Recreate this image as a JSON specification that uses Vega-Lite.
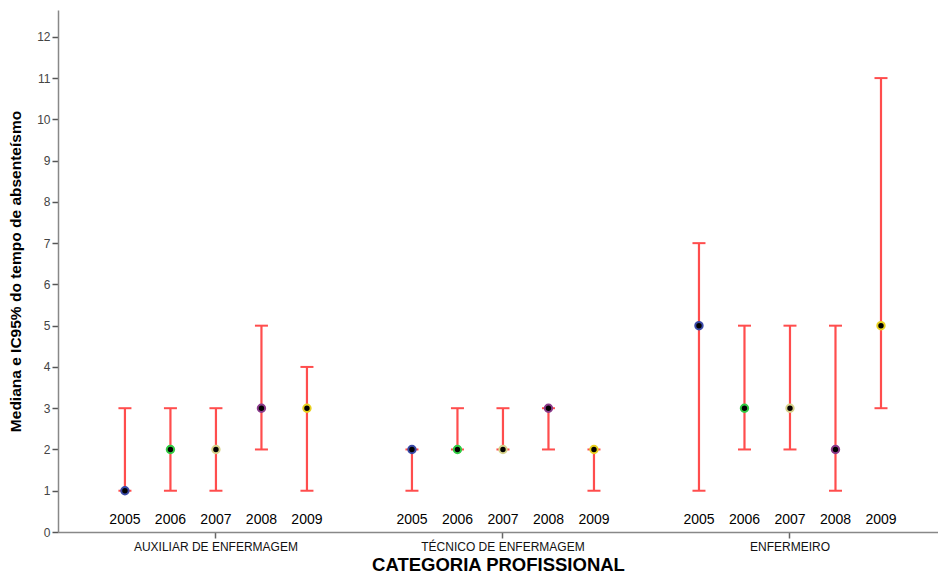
{
  "$schema": "https://vega.github.io/schema/vega-lite/v6.json",
  "width": 880,
  "height": 522,
  "autosize": {"type": "none"},
  "padding": {"left": 58, "top": 10, "right": 0, "bottom": 42},
  "background": "white",
  "config": {"view": {"stroke": null}},
  "data": {
    "values": [
      {"cat": "AUXILIAR DE ENFERMAGEM", "ano": "2005", "med": 1, "lo": 1, "hi": 3},
      {"cat": "AUXILIAR DE ENFERMAGEM", "ano": "2006", "med": 2, "lo": 1, "hi": 3},
      {"cat": "AUXILIAR DE ENFERMAGEM", "ano": "2007", "med": 2, "lo": 1, "hi": 3},
      {"cat": "AUXILIAR DE ENFERMAGEM", "ano": "2008", "med": 3, "lo": 2, "hi": 5},
      {"cat": "AUXILIAR DE ENFERMAGEM", "ano": "2009", "med": 3, "lo": 1, "hi": 4},
      {"cat": "TÉCNICO DE ENFERMAGEM", "ano": "2005", "med": 2, "lo": 1, "hi": 2},
      {"cat": "TÉCNICO DE ENFERMAGEM", "ano": "2006", "med": 2, "lo": 2, "hi": 3},
      {"cat": "TÉCNICO DE ENFERMAGEM", "ano": "2007", "med": 2, "lo": 2, "hi": 3},
      {"cat": "TÉCNICO DE ENFERMAGEM", "ano": "2008", "med": 3, "lo": 2, "hi": 3},
      {"cat": "TÉCNICO DE ENFERMAGEM", "ano": "2009", "med": 2, "lo": 1, "hi": 2},
      {"cat": "ENFERMEIRO", "ano": "2005", "med": 5, "lo": 1, "hi": 7},
      {"cat": "ENFERMEIRO", "ano": "2006", "med": 3, "lo": 2, "hi": 5},
      {"cat": "ENFERMEIRO", "ano": "2007", "med": 3, "lo": 2, "hi": 5},
      {"cat": "ENFERMEIRO", "ano": "2008", "med": 2, "lo": 1, "hi": 5},
      {"cat": "ENFERMEIRO", "ano": "2009", "med": 5, "lo": 3, "hi": 11}
    ]
  },
  "encoding": {
    "x": {
      "field": "cat",
      "type": "nominal",
      "sort": null,
      "scale": {"paddingInner": 0.2, "paddingOuter": 0.133, "align": 0.565},
      "axis": {
        "title": "CATEGORIA PROFISSIONAL",
        "titleFont": "Liberation Sans",
        "titleFontSize": 18.5,
        "titleFontWeight": "bold",
        "titleColor": "#000000",
        "titlePadding": 3,
        "labelAngle": 0,
        "labelFont": "Liberation Sans Narrow, Liberation Sans",
        "labelFontSize": 12,
        "labelColor": "#111111",
        "labelPadding": 3,
        "domainColor": "#888888",
        "domainWidth": 1.5,
        "tickColor": "#666666",
        "tickWidth": 1.5,
        "tickSize": 6
      }
    },
    "xOffset": {
      "field": "ano",
      "type": "nominal",
      "scale": {"type": "point", "padding": 0.523}
    }
  },
  "layer": [
    {
      "mark": {"type": "rule", "color": "#ff4d4d", "strokeWidth": 2.2},
      "encoding": {
        "y": {
          "field": "lo",
          "type": "quantitative",
          "scale": {"domain": [0, 12.65], "nice": false, "zero": true},
          "axis": {
            "title": "Mediana e IC95% do tempo de absenteísmo",
            "titleFont": "Liberation Sans Narrow, Liberation Sans",
            "titleFontSize": 15.5,
            "titleFontWeight": "bold",
            "titleColor": "#000000",
            "titlePadding": 13,
            "values": [0, 1, 2, 3, 4, 5, 6, 7, 8, 9, 10, 11, 12],
            "labelFont": "Liberation Sans",
            "labelFontSize": 12,
            "labelColor": "#444444",
            "labelPadding": 2,
            "grid": false,
            "domainColor": "#888888",
            "domainWidth": 1.5,
            "tickColor": "#555555",
            "tickWidth": 1.5,
            "tickSize": 6
          }
        },
        "y2": {"field": "hi"}
      }
    },
    {
      "mark": {"type": "tick", "color": "#ff4d4d", "thickness": 2, "size": 13, "orient": "horizontal", "opacity": 1},
      "encoding": {"y": {"field": "lo", "type": "quantitative"}}
    },
    {
      "mark": {"type": "tick", "color": "#ff4d4d", "thickness": 2, "size": 13, "orient": "horizontal", "opacity": 1},
      "encoding": {"y": {"field": "hi", "type": "quantitative"}}
    },
    {
      "mark": {"type": "point", "filled": false, "fill": "#000000", "fillOpacity": 1, "strokeWidth": 2, "size": 55, "opacity": 1},
      "encoding": {
        "y": {"field": "med", "type": "quantitative"},
        "color": {
          "field": "ano",
          "type": "nominal",
          "scale": {"domain": ["2005", "2006", "2007", "2008", "2009"], "range": ["#3a4aa8", "#33cc44", "#d6d28a", "#8a3a8a", "#e8d020"]},
          "legend": null
        }
      }
    },
    {
      "mark": {"type": "text", "font": "Liberation Sans", "fontSize": 14, "color": "#000000", "baseline": "middle", "align": "center"},
      "encoding": {
        "y": {"datum": 0.3, "type": "quantitative"},
        "text": {"field": "ano", "type": "nominal"}
      }
    }
  ]
}
